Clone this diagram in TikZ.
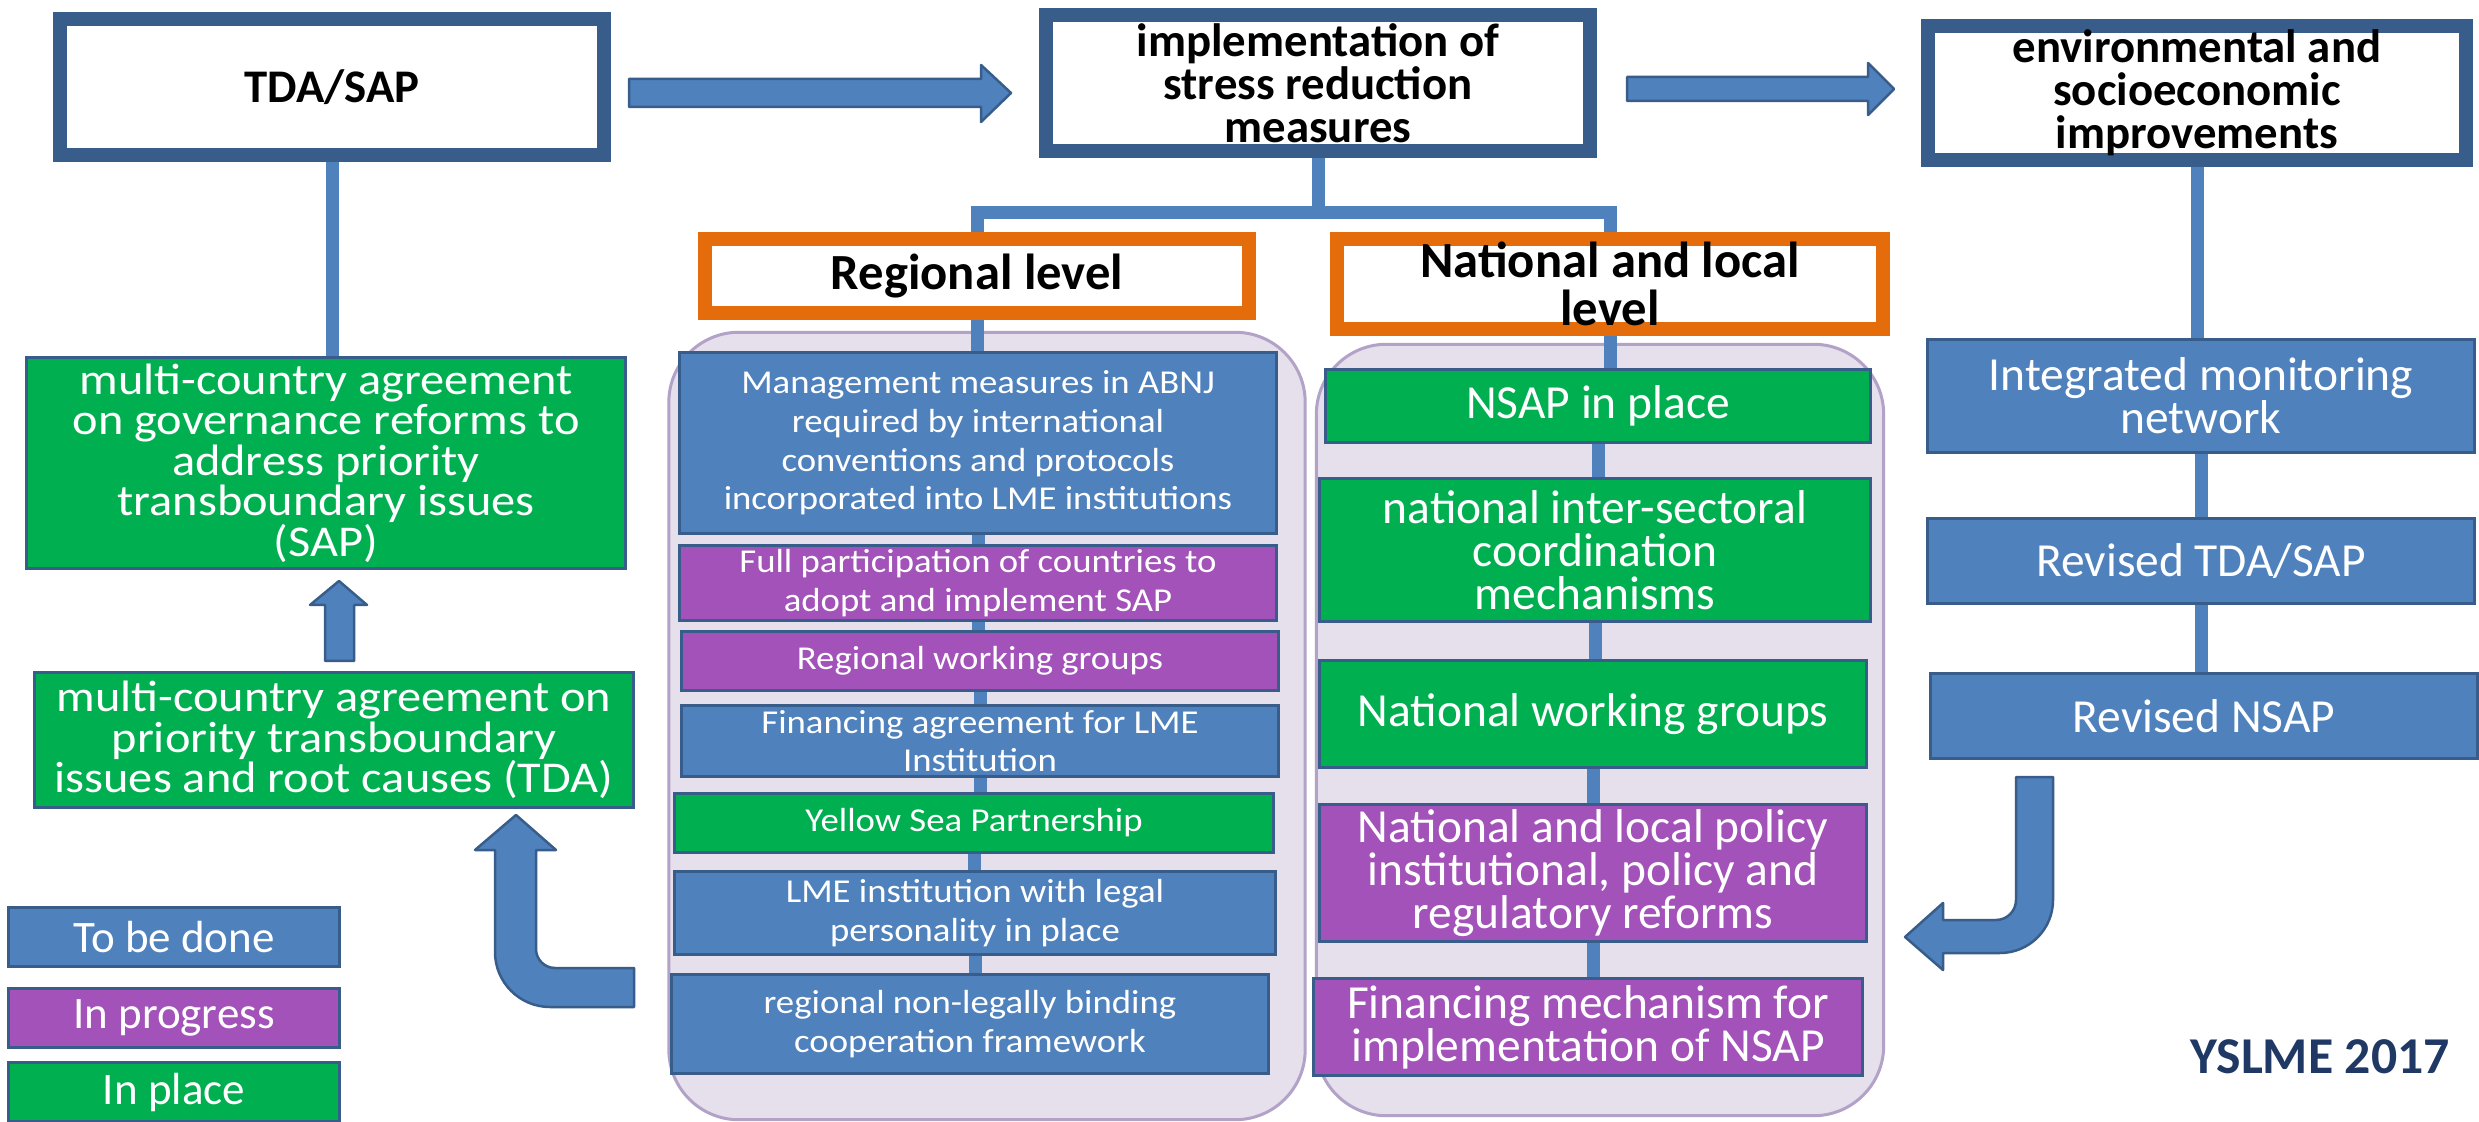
\documentclass[tikz,border=0pt]{standalone}
\usepackage{fontspec}
\setmainfont{Carlito}
\newfontfamily\widefont[FakeStretch=1.1]{Carlito}
\usepackage{tikz}
\usetikzlibrary{positioning}
\usepackage{xcolor}
\definecolor{bordblue}{HTML}{385D8A}
\definecolor{tbdblue}{HTML}{4F81BD}
\definecolor{progpurple}{HTML}{A252B8}
\definecolor{donegreen}{HTML}{00B050}
\definecolor{lvlorange}{HTML}{E46C0A}
\definecolor{grpfill}{HTML}{E5E0EC}
\definecolor{grpline}{HTML}{B3A2C7}
\definecolor{navy}{HTML}{1F3864}
\pgfdeclarelayer{back}
\pgfdeclarelayer{links}
\pgfsetlayers{back,links,main}

\begin{document}
\begin{tikzpicture}[x=0.01cm,y=-0.01cm,
	topbox/.style={draw=bordblue,line width=0.14cm,fill=white,align=center,inner sep=0pt,font=\bfseries\fontsize{13.3}{12.2}\selectfont},
	lvlbox/.style={draw=lvlorange,line width=0.14cm,fill=white,align=center,inner sep=0pt,font=\bfseries\fontsize{14.4}{13.8}\selectfont},
	stbox/.style={draw=bordblue,line width=0.03cm,text=white,align=center,inner sep=0pt},
	tbd/.style={stbox,fill=tbdblue},
	prog/.style={stbox,fill=progpurple},
	done/.style={stbox,fill=donegreen},
	bigtxt/.style={font=\widefont\fontsize{12.5}{11.5}\selectfont},
	regtxt/.style={font=\widefont\fontsize{9.5}{11}\selectfont},
	nattxt/.style={font=\fontsize{13.5}{12.3}\selectfont},
	legtxt/.style={font=\fontsize{12.8}{14}\selectfont},
	group/.style={fill=grpfill,draw=grpline,line width=0.03cm,rounded corners=0.7cm,inner sep=0pt},
	conn/.style={draw=tbdblue,line width=0.13cm},
	blockarrow/.style={fill=tbdblue,draw=bordblue,line width=0.025cm,line join=round}]
	\useasboundingbox (0,0) rectangle (2479,1122);
	\begin{pgfonlayer}{back}
		\fill[white] (0,0) rectangle (2479,1122);
	\end{pgfonlayer}

	\node[topbox,minimum width=5.44cm,minimum height=1.36cm] (tda) at (332,87) {TDA/SAP};
	\node[topbox,minimum width=5.44cm,minimum height=1.36cm] (impl) at (1318,83) {implementation of\\stress reduction\\measures};
	\node[topbox,minimum width=5.38cm,minimum height=1.33cm] (env) at (2197,93) {environmental and\\socioeconomic\\improvements};

	\node[lvlbox,minimum width=5.43cm,minimum height=0.74cm] (reg) at (977,276) {Regional level};
	\node[lvlbox,minimum width=5.45cm,minimum height=0.90cm] (nat) at (1610,284) {National and local\\level};

	\begin{pgfonlayer}{back}
		\node[group,minimum width=6.36cm,minimum height=7.87cm] (regbg) at (987,726) {};
		\node[group,minimum width=5.67cm,minimum height=7.71cm] (natbg) at (1600,730) {};
	\end{pgfonlayer}

	\node[done,bigtxt,minimum width=5.98cm,minimum height=2.10cm] (sap) at (326,463) {multi-country agreement\\on governance reforms to\\address priority\\transboundary issues\\(SAP)};
	\node[done,bigtxt,minimum width=5.99cm,minimum height=1.34cm] (tdaagr) at (334,740) {multi-country agreement on\\priority transboundary\\issues and root causes (TDA)};

	\node[tbd,legtxt,minimum width=3.31cm,minimum height=0.58cm] (lgtbd) at (174,937) {To be done};
	\node[prog,legtxt,minimum width=3.31cm,minimum height=0.58cm] (lgprog) at (174,1018) {In progress};
	\node[done,legtxt,minimum width=3.31cm,minimum height=0.58cm] (lgdone) at (174,1092) {In place};

	\node[tbd,regtxt,minimum width=5.97cm,minimum height=1.80cm] (mgmt) at (978,443) {Management measures in ABNJ\\required by international\\conventions and protocols\\incorporated into LME institutions};
	\node[prog,regtxt,minimum width=5.97cm,minimum height=0.74cm] (fullp) at (978,583) {Full participation of countries to\\adopt and implement SAP};
	\node[prog,regtxt,minimum width=5.96cm,minimum height=0.59cm] (rwg) at (980,661) {Regional working groups};
	\node[tbd,regtxt,minimum width=5.96cm,minimum height=0.71cm] (fin) at (980,741) {Financing agreement for LME\\Institution};
	\node[done,regtxt,minimum width=5.98cm,minimum height=0.59cm] (ysp) at (974,823) {Yellow Sea Partnership};
	\node[tbd,regtxt,minimum width=6.00cm,minimum height=0.82cm] (lme) at (975,913) {LME institution with legal\\personality in place};
	\node[tbd,regtxt,minimum width=5.97cm,minimum height=0.98cm] (rnl) at (970,1024) {regional non-legally binding\\cooperation framework};

	\node[done,nattxt,minimum width=5.44cm,minimum height=0.72cm] (nsap) at (1598,406) {NSAP in place};
	\node[done,nattxt,minimum width=5.50cm,minimum height=1.43cm] (nisc) at (1595,550) {national inter-sectoral\\coordination\\mechanisms};
	\node[done,nattxt,minimum width=5.47cm,minimum height=1.07cm] (nwg) at (1593,714) {National working groups};
	\node[prog,nattxt,minimum width=5.47cm,minimum height=1.37cm] (nlp) at (1593,873) {National and local policy\\institutional, policy and\\regulatory reforms};
	\node[prog,nattxt,minimum width=5.49cm,minimum height=0.97cm] (fmn) at (1588,1027) {Financing mechanism for\\implementation of NSAP};

	\node[tbd,nattxt,minimum width=5.46cm,minimum height=1.12cm] (imn) at (2201,396) {Integrated monitoring\\network};
	\node[tbd,nattxt,minimum width=5.46cm,minimum height=0.85cm] (rts) at (2201,561) {Revised TDA/SAP};
	\node[tbd,nattxt,minimum width=5.46cm,minimum height=0.84cm] (rns) at (2204,716) {Revised NSAP};

	\node[text=navy,inner sep=0pt,font=\bfseries\fontsize{14.7}{16}\selectfont] (stamp) at (2320,1057) {YSLME 2017};

	\begin{pgfonlayer}{links}
		\draw[conn] (tda.south) -- (tda.south |- sap.north);
		\draw[conn] (impl.south) -- ++(0,54) coordinate (fork);
		\draw[conn] (reg.north) |- (fork) -| (nat.north);
		\draw[conn] (reg.south) -- (reg.south |- mgmt.north);
		\draw[conn] (nat.south) -- (nat.south |- nsap.north);
		\draw[conn] (env.south) -- (env.south |- imn.north);
		\foreach \a/\b in {mgmt/fullp,fullp/rwg,rwg/fin,fin/ysp,ysp/lme,lme/rnl,nsap/nisc,nisc/nwg,nwg/nlp,nlp/fmn,imn/rts,rts/rns}
			\draw[conn] (\a.south) -- (\a.south |- \b.north);
	\end{pgfonlayer}

	\draw[blockarrow] (629,79) -- (981,79) -- (981,65) -- (1011,93) -- (981,122) -- (981,107) -- (629,107) -- cycle;
	\draw[blockarrow] (1627,77) -- (1868,77) -- (1868,63) -- (1894,89) -- (1868,115) -- (1868,101) -- (1627,101) -- cycle;
	\draw[blockarrow] (325,661) -- (325,605) -- (310,605) -- (339,581) -- (367,605) -- (354,605) -- (354,661) -- cycle;
	\draw[blockarrow] (634,968) -- (555,968) arc[start angle=90,end angle=180,radius=19] -- (536,850) -- (556,850) -- (516,815) -- (475,850) -- (495,850) -- (495,952) arc[start angle=180,end angle=90,radius=55] -- (634,1007) -- cycle;
	\draw[blockarrow] (2016,777) -- (2053,777) -- (2053,900) arc[start angle=0,end angle=90,radius=53] -- (1943,953) -- (1943,970) -- (1905,937) -- (1943,903) -- (1943,920) -- (1996,920) arc[start angle=90,end angle=0,radius=20] -- cycle;
\end{tikzpicture}
\end{document}
